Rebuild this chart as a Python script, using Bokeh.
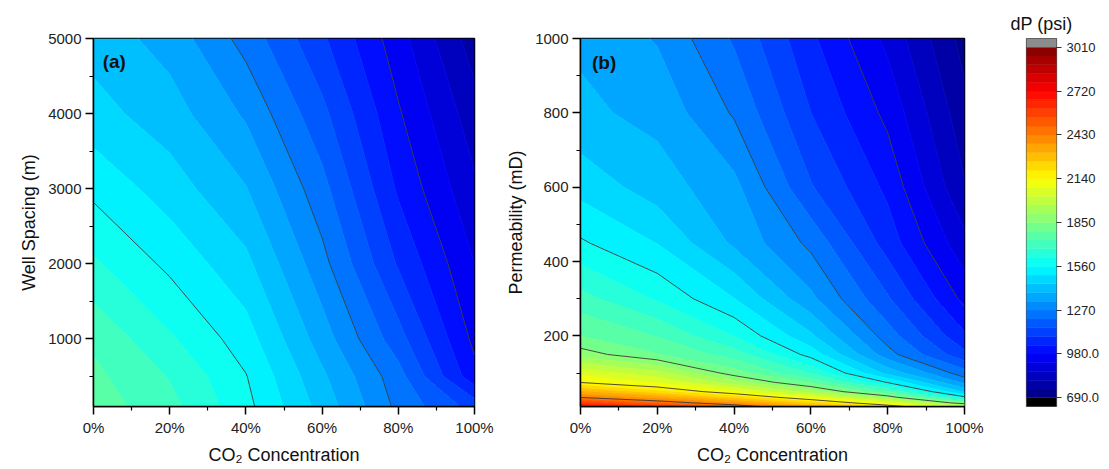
import numpy as np
from bokeh.plotting import figure
from bokeh.layouts import row
from bokeh.models import FixedTicker, PrintfTickFormatter, Label, Range1d
from bokeh.embed import file_html
from bokeh.resources import INLINE

# ---------------- data ----------------
co2_pct = [0, 20, 40, 60, 80, 100]

# panel (a): well spacing (m) vs CO2 concentration
spacing_m = [100, 500, 1000, 2000, 3000, 4000, 5000]
dp_spacing = [  # dP (psi); rows follow spacing_m, columns follow co2_pct
    [1765, 1695, 1578, 1422, 1255, 1130],
    [1748, 1672, 1563, 1397, 1235, 1000],
    [1722, 1627, 1529, 1357, 1177, 965],
    [1627, 1546, 1459, 1290, 1089, 922],
    [1545, 1473, 1389, 1232, 1029, 875],
    [1466, 1412, 1319, 1170, 987, 830],
    [1420, 1362, 1248, 1106, 946, 775],
]

# panel (b): permeability (mD) vs CO2 concentration
perm_md = [10, 20, 35, 50, 75, 100, 150, 200, 300, 450, 600, 800, 1000]
dp_perm = [  # dP (psi); rows follow perm_md, columns follow co2_pct
    [2680, 2600, 2480, 2330, 2180, 2000],
    [2576, 2479, 2370, 2224, 2068, 1798],
    [2423, 2336, 2220, 2075, 1886, 1573],
    [2314, 2208, 2094, 1934, 1734, 1432],
    [2137, 2072, 1929, 1779, 1555, 1311],
    [2060, 1985, 1820, 1670, 1424, 1237],
    [1880, 1795, 1704, 1537, 1294, 1112],
    [1790, 1730, 1616, 1454, 1240, 1048],
    [1697, 1610, 1503, 1342, 1161, 963],
    [1568, 1500, 1375, 1255, 1070, 881],
    [1481, 1415, 1345, 1159, 1024, 811],
    [1399, 1368, 1263, 1096, 964, 768],
    [1375, 1323, 1204, 1050, 907, 725],
]

level_min, level_max, level_step = 690, 3010, 58
major_step = 290
x_ticks = [0, 20, 40, 60, 80, 100]
x_minor = [10, 30, 50, 70, 90]
spacing_ticks = [1000, 2000, 3000, 4000, 5000]
spacing_minor = [500, 1500, 2500, 3500, 4500]
perm_ticks = [200, 400, 600, 800, 1000]
perm_minor = [100, 300, 500, 700, 900]
cbar_labels = ["690.0", "980.0", "1270", "1560", "1850", "2140", "2430", "2720", "3010"]

# ---------------- styling helpers ----------------
levels = list(range(level_min, level_max + 1, level_step))
major_levels = list(range(level_min, level_max + 1, major_step))


def jet(t):
    def c(v):
        return int(round(255 * min(max(v, 0.0), 1.0)))
    r = 1.5 - abs(4 * t - 3)
    g = 1.5 - abs(4 * t - 2)
    b = 1.5 - abs(4 * t - 1)
    return "#%02x%02x%02x" % (c(r), c(g), c(b))


nb = len(levels) - 1
palette = [jet((i + 0.5) / nb) for i in range(nb)]
seam_colors = [palette[min(k, nb - 1)] for k in range(len(levels))]

FONT = "Liberation Sans"
FRAME_H = 368


def style_axes(p):
    for ax in (p.xaxis[0], p.yaxis[0]):
        ax.axis_line_color = "black"
        ax.axis_line_width = 1.5
        ax.major_tick_line_color = "black"
        ax.major_tick_line_width = 1.5
        ax.minor_tick_line_color = "black"
        ax.minor_tick_line_width = 1.2
        ax.major_tick_in = 0
        ax.major_tick_out = 8
        ax.minor_tick_in = 0
        ax.minor_tick_out = 4
        ax.major_label_text_font = FONT
        ax.major_label_text_font_size = "15px"
        ax.major_label_text_color = "#222222"
        ax.major_label_standoff = 4
        ax.axis_label_text_font = FONT
        ax.axis_label_text_font_size = "18px"
        ax.axis_label_text_font_style = "normal"
        ax.axis_label_text_color = "#111111"
        ax.axis_label_standoff = 6
    p.grid.visible = False
    p.outline_line_color = "black"
    p.outline_line_width = 1.5
    p.background_fill_color = "white"
    p.border_fill_color = "white"


def panel(xs, ys, zs, yr, yticks, yminor, ylabel, tag, tag_x, tag_y, left, frame_w):
    p = figure(frame_width=frame_w, frame_height=FRAME_H,
               x_range=Range1d(0, 100), y_range=Range1d(*yr),
               output_backend="svg", toolbar_location=None,
               min_border_left=left, min_border_right=20,
               min_border_top=38, min_border_bottom=56)
    xa = np.array(xs, dtype=float)
    ya_ = np.array(ys, dtype=float)
    z = np.array(zs, dtype=float)
    # filled bands (band-coloured lines hide anti-aliasing seams)
    p.contour(x=xa, y=ya_, z=z, levels=levels, fill_color=palette,
              line_color=seam_colors, line_width=1.0)
    # dark contour lines at the major levels
    p.contour(x=xa, y=ya_, z=z, levels=major_levels, line_color="#3a3a3a", line_width=0.9)
    p.xaxis.ticker = FixedTicker(ticks=x_ticks, minor_ticks=x_minor)
    p.xaxis.formatter = PrintfTickFormatter(format="%d%%")
    p.yaxis.ticker = FixedTicker(ticks=yticks, minor_ticks=yminor)
    p.xaxis.axis_label = "CO\u2082 Concentration"
    p.yaxis.axis_label = ylabel
    style_axes(p)
    p.add_layout(Label(x=tag_x, y=tag_y, text=tag, text_font=FONT,
                       text_font_size="19px", text_font_style="bold",
                       text_baseline="middle", text_color="#111111"))
    return p


pa = panel(co2_pct, spacing_m, dp_spacing, (100, 5000), spacing_ticks, spacing_minor,
           "Well Spacing (m)", "(a)", 2.4, 4690, 93, 381)
pb = panel(co2_pct, perm_md, dp_perm, (10, 1000), perm_ticks, perm_minor,
           "Permeability (mD)", "(b)", 3.0, 935, 86, 384)

# ---------------- colour bar ----------------
pc = figure(frame_width=30, frame_height=FRAME_H, x_range=Range1d(0, 1),
            y_range=Range1d(level_min - level_step, level_max + level_step),
            output_backend="svg", toolbar_location=None, y_axis_location="right",
            min_border_left=42, min_border_right=45, min_border_top=38, min_border_bottom=56)
pc.quad(left=0, right=1, bottom=levels[:-1], top=levels[1:], fill_color=palette,
        line_color=palette, line_width=0.5)
pc.quad(left=[0], right=[1], bottom=[level_max], top=[level_max + level_step],
        fill_color="#8c8c8c", line_color=None)
pc.quad(left=[0], right=[1], bottom=[level_min - level_step], top=[level_min],
        fill_color="#000000", line_color=None)
pc.xaxis.visible = False
pc.grid.visible = False
yb = pc.yaxis[0]
yb.ticker = FixedTicker(ticks=major_levels, minor_ticks=[])
yb.major_label_overrides = {lv: lab for lv, lab in zip(major_levels, cbar_labels)}
yb.axis_line_color = None
yb.major_tick_in = 0
yb.major_tick_out = 5
yb.major_tick_line_color = "#333333"
yb.major_tick_line_width = 1
yb.major_label_standoff = 5
yb.major_label_text_font = FONT
yb.major_label_text_font_size = "13px"
yb.major_label_text_color = "#222222"
pc.outline_line_color = "#555555"
pc.outline_line_width = 1.2
pc.title.text = "dP (psi)"
pc.title.align = "center"
pc.title.text_font = FONT
pc.title.text_font_size = "18px"
pc.title.text_font_style = "normal"
pc.title.text_color = "#111111"
pc.border_fill_color = "white"

layout = row(pa, pb, pc)
open("out.html", "w").write(file_html(layout, INLINE))
